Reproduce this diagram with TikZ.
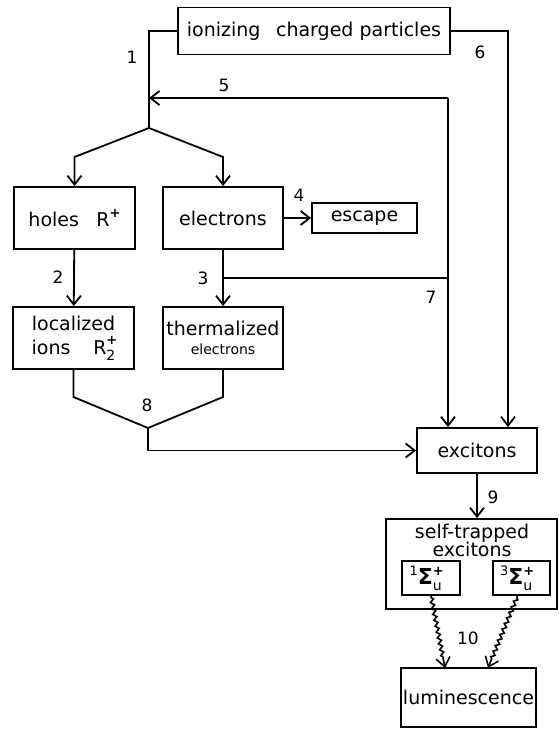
\documentclass[tikz,border=0pt]{standalone}
\usepackage{fontspec}
\setmainfont{DejaVu Sans}
\usetikzlibrary{arrows.meta,decorations.pathmorphing}
\newcommand{\supsub}[2]{\makebox[0pt][l]{\raisebox{0.5em}{\fontsize{13}{13}\selectfont\bfseries #1}}\raisebox{-0.3em}{\fontsize{14}{14}\selectfont #2}}
\newcommand{\supr}[1]{\raisebox{0.45em}{\fontsize{13}{13}\selectfont\bfseries #1}}
\newcommand{\sigmaterm}[1]{\raisebox{0.5em}{\fontsize{13}{13}\selectfont #1}{\fontsize{22}{22}\selectfont\textbf{Σ}}\supsub{+}{u}\hspace{0.55em}}
\begin{document}
\begin{tikzpicture}[x=1pt,y=-1pt,
  box/.style={draw, line width=1.8pt, inner sep=0pt, align=center, font=\fontsize{19}{22}\selectfont},
  lbl/.style={font=\fontsize{17}{17}\selectfont, inner sep=0pt},
  ln/.style={line width=1.8pt},
  arr/.style={line width=1.8pt, -{Straight Barb[length=9pt,width=14pt,line width=1.8pt]}},
  wavy/.style={line width=1.6pt, -{Straight Barb[length=9pt,width=14pt,line width=1.6pt]}, decorate,
     decoration={zigzag, amplitude=1.8pt, segment length=6pt, pre length=2pt, post length=9pt}}]
\fill[white] (0,0) rectangle (558,729);
\useasboundingbox (0,0) rectangle (558,729);

% nodes
\node[box, minimum width=272pt, minimum height=47pt] (top) at (314,31) {ionizing\hspace{0.5em} charged particles};
\node[box, minimum width=121pt, minimum height=62pt] (holes) at (74.5,218) {holes\hspace{0.6em} R\supr{+}};
\node[box, minimum width=120pt, minimum height=62pt] (electrons) at (223,218) {electrons};
\node[box, minimum width=105pt, minimum height=30pt] (escape) at (364.5,218) {escape};
\node[box, minimum width=121pt, minimum height=62pt] (localized) at (73.5,338) {localized\\[2pt]ions\hspace{1.2em}R\supsub{+}{2}\hspace{0.3em}};
\node[box, minimum width=120pt, minimum height=62pt] (thermalized) at (223,338) {thermalized\\[-3pt]{\fontsize{14}{16}\selectfont electrons}};
\node[box, minimum width=120pt, minimum height=45pt] (excitons) at (477,450.5) {excitons};
\node[box, minimum width=171pt, minimum height=90pt] (selftrap) at (471.5,564) {};
\node[box, draw=none] (stlabel) at (472,540) {self-trapped\\[-4pt]excitons};
\node[box, minimum width=58pt, minimum height=34pt] (s1) at (431,578) {\sigmaterm{1}};
\node[box, minimum width=57pt, minimum height=34pt] (s3) at (521.5,578) {\sigmaterm{3}};
\node[box, minimum width=135pt, minimum height=59pt] (lum) at (468.5,697.5) {luminescence};

% coordinates
\coordinate (c1) at (149,31);
\coordinate (b1) at (149,128);
\coordinate (bl) at (74.5,157);
\coordinate (br) at (223,157);
\coordinate (c5) at (448,98);
\coordinate (b5) at (149,98);
\coordinate (c6) at (508,31);
\coordinate (c3) at (223,278);
\coordinate (c7) at (448,278);
\coordinate (kl) at (73.5,397);
\coordinate (kr) at (223,397);
\coordinate (m8) at (148,428);
\coordinate (e1) at (445,668);
\coordinate (e3) at (488,668);

% connectors
\draw[ln] (top.west) -- (c1) -- (b1);
\draw[arr] (b1) -- (bl) -- (holes.north);
\draw[arr] (b1) -- (br) -- (electrons.north);
\draw[arr] (c5) -- (b5);
\draw[arr] (c5) -- (c5 |- excitons.north);
\draw[arr] (top.east) -- (c6) -- (c6 |- excitons.north);
\draw[arr] (electrons) -- (escape);
\draw[arr] (holes) -- (localized);
\draw[arr] (electrons) -- (thermalized);
\draw[ln] (c3) -- (c7);
\draw[ln] (localized.south) -- (kl) -- (m8);
\draw[ln] (thermalized.south) -- (kr) -- (m8);
\draw[arr] (m8) |- (excitons.west);
\draw[arr] (excitons.south) -- (excitons.south |- selftrap.north);
\draw[wavy] (s1.south) -- (e1);
\draw[wavy] ([xshift=-4pt]s3.south) -- (e3);

% labels
\node[lbl] (l1) at (132,57) {1};
\node[lbl] (l2) at (58,277) {2};
\node[lbl] (l3) at (203,278) {3};
\node[lbl] (l4) at (299,195) {4};
\node[lbl] (l5) at (224,85) {5};
\node[lbl] (l6) at (480,52) {6};
\node[lbl] (l7) at (431,297) {7};
\node[lbl] (l8) at (147,405) {8};
\node[lbl] (l9) at (493,497) {9};
\node[lbl] (l10) at (468,638) {10};
\end{tikzpicture}
\end{document}
